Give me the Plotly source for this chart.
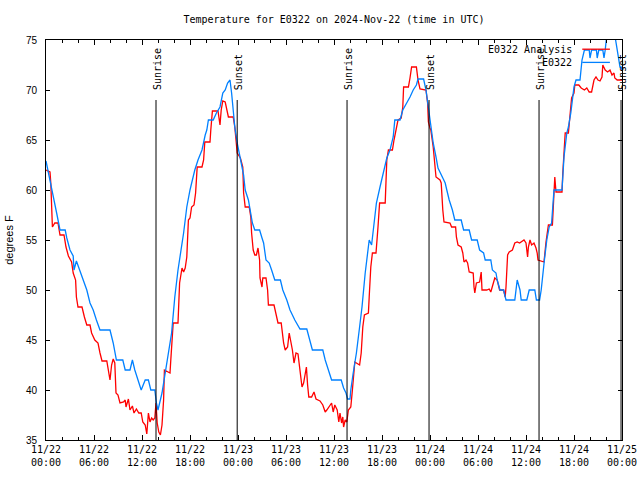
import pandas as pd
import plotly.graph_objects as go

START = pd.Timestamp("2024-11-22 00:00")

# E0322 (blue) : hours since 2024-11-22 00:00 UTC, temperature (F)
obs_hours = [0.0, 0.7, 1.33, 1.75, 2.4, 2.6, 3.0, 3.4, 3.5, 3.8, 4.2, 4.6, 5.1, 5.5, 5.9, 6.3, 6.75, 8.0,
             8.4, 8.8, 9.6, 9.9, 10.5, 10.8, 11.1, 11.5, 11.9, 12.4, 12.8, 13.1, 13.6, 13.8, 14.0, 14.5,
             14.9, 15.3, 15.7, 16.1, 16.5, 17.2, 17.6, 18.0, 18.6, 19.0, 19.5, 19.9, 20.1, 20.3, 20.9,
             21.3, 21.75, 22.1, 22.4, 22.7, 23.0, 23.2, 23.4, 23.6, 23.9, 24.2, 24.5, 24.7, 24.9, 25.3,
             25.5, 25.8, 26.1, 26.7, 27.0, 27.2, 27.5, 27.9, 28.2, 28.6, 29.3, 29.6, 30.1, 30.5, 31.1,
             31.75, 32.6, 33.0, 33.3, 34.6, 34.9, 35.3, 35.7, 36.9, 37.2, 37.5, 37.7, 38.0, 38.1, 38.4,
             38.6, 38.8, 39.2, 39.5, 39.9, 40.2, 40.4, 40.7, 41.0, 41.3, 41.75, 42.2, 42.6, 43.0, 43.4,
             43.6, 44.25, 44.6, 45.1, 45.5, 45.9, 46.3, 46.5, 47.2, 47.5, 47.8, 48.0, 48.2, 48.4, 48.75,
             49.0, 49.6, 49.9, 50.1, 50.4, 50.8, 51.1, 51.9, 52.2, 52.9, 53.2, 53.9, 54.2, 54.7, 54.9,
             55.6, 55.8, 56.25, 56.4, 56.75, 57.2, 57.5, 58.6, 58.9, 59.25, 59.4, 60.1, 60.4, 61.1, 61.3,
             61.7, 61.9, 62.1, 62.3, 62.6, 62.9, 63.2, 63.3, 63.5, 64.5, 64.6, 64.75, 65.1, 65.3, 65.6,
             65.8, 66.0, 66.25, 66.75, 67.0, 67.3, 67.9, 68.0, 68.2, 68.8, 68.9, 69.1, 69.6, 69.75, 69.9,
             70.1, 71.1, 71.3, 71.5, 71.75, 71.9, 72.0]
obs_temps = [62.9, 60.3, 57.7, 56.0, 56.0, 55.2, 54.0, 53.4, 52.0, 52.9, 52.0, 51.0, 50.0, 48.7, 48.0, 47.0, 46.0, 46.0,
             44.7, 43.0, 43.0, 42.0, 42.0, 43.0, 42.0, 41.0, 40.0, 41.0, 41.0, 40.0, 40.0, 38.7, 38.0, 39.7,
             41.7, 44.0, 45.7, 49.3, 52.0, 55.7, 58.3, 60.0, 62.0, 63.0, 64.0, 65.5, 66.0, 67.0, 67.0,
             67.7, 68.3, 69.7, 70.0, 70.7, 71.0, 69.7, 68.0, 66.3, 64.7, 63.3, 62.3, 61.5, 60.0, 59.0,
             58.0, 56.7, 56.0, 56.0, 55.2, 54.7, 53.0, 52.7, 52.0, 51.0, 51.0, 50.0, 49.0, 48.0, 47.0,
             46.1, 46.1, 45.0, 44.0, 44.0, 43.0, 42.0, 41.0, 41.0, 40.2, 39.7, 39.1, 39.1, 40.0, 41.7,
             42.7, 43.7, 46.3, 48.3, 51.7, 54.0, 55.0, 54.5, 56.7, 58.7, 60.3, 62.0, 63.2, 64.0, 65.3,
             67.0, 67.0, 68.0, 68.7, 69.3, 70.0, 70.5, 71.1, 71.1, 70.0, 68.3, 66.7, 66.0, 64.7, 63.3,
             62.2, 61.2, 60.7, 60.0, 59.0, 58.0, 57.0, 57.0, 56.0, 56.0, 55.0, 55.0, 54.0, 53.7, 53.0,
             53.0, 52.0, 51.7, 51.0, 50.0, 50.0, 49.0, 49.0, 51.0, 50.0, 49.0, 49.0, 50.0, 50.0, 49.0,
             49.0, 50.0, 51.7, 53.0, 55.0, 56.3, 56.7, 57.7, 60.0, 60.0, 61.7, 63.3, 65.7, 66.3, 67.7,
             69.3, 70.3, 71.0, 71.0, 73.0, 74.0, 74.0, 73.2, 74.0, 74.0, 73.2, 74.0, 74.0, 73.2, 74.0,
             75.5, 75.5, 74.5, 73.3, 72.3, 72.3, 72.0]

# E0322 Analysis (red)
ana_hours = [0.0, 0.5, 0.6, 0.7, 0.8, 1.1, 1.5, 1.75, 2.25, 2.5, 2.8, 3.2, 3.4, 3.7, 3.8, 4.0, 4.5, 4.8, 5.1,
             5.5, 5.7, 6.1, 6.5, 6.75, 7.0, 7.6, 7.8, 8.0, 8.2, 8.4, 8.6, 8.75, 9.0, 9.25, 9.7, 9.9, 10.0,
             10.3, 10.5, 10.8, 11.0, 11.3, 11.6, 11.9, 12.1, 12.4, 12.6, 12.8, 13.0, 13.2, 13.4, 13.6,
             13.75, 13.9, 14.1, 14.3, 14.5, 14.7, 14.8, 15.5, 15.6, 15.8, 15.9, 16.5, 16.7, 17.0, 17.2,
             17.4, 17.6, 17.8, 18.0, 18.2, 18.5, 18.7, 18.9, 19.5, 19.7, 19.85, 20.5, 20.6, 20.8, 21.5,
             21.75, 21.9, 22.1, 22.4, 22.7, 22.8, 23.4, 23.6, 23.75, 23.9, 24.3, 24.6, 24.7, 24.9, 25.4,
             25.6, 25.7, 25.9, 26.1, 26.3, 26.5, 26.7, 26.75, 27.0, 27.1, 27.5, 27.7, 27.8, 28.5, 28.75,
             29.0, 29.4, 29.7, 29.9, 30.2, 30.4, 30.6, 30.8, 31.0, 31.25, 31.5, 31.75, 32.0, 32.2, 32.4,
             32.55, 32.7, 32.85, 33.2, 33.5, 33.75, 34.25, 34.6, 34.9, 35.1, 35.4, 35.7, 35.9, 36.1,
             36.4, 36.6, 36.75, 36.95, 37.1, 37.2, 37.4, 37.6, 37.8, 38.1, 38.3, 38.5, 38.6, 38.8, 39.2,
             39.4, 39.6, 39.8, 40.3, 40.4, 40.6, 40.8, 41.25, 41.5, 41.7, 42.4, 42.6, 42.8, 43.3, 43.5,
             44.0, 44.4, 44.6, 44.7, 45.3, 45.5, 45.7, 46.3, 46.5, 46.75, 47.5, 47.7, 47.8, 48.0, 48.1,
             48.4, 48.6, 48.75, 49.25, 49.4, 49.6, 49.75, 50.5, 50.7, 51.2, 51.3, 51.5, 51.9, 52.1,
             52.25, 52.5, 52.7, 52.9, 53.4, 53.5, 53.6, 53.8, 54.2, 54.4, 54.5, 55.1, 55.4, 55.6, 55.8,
             56.1, 56.4, 56.7, 57.2, 57.4, 57.5, 57.7, 57.9, 58.3, 58.6, 58.9, 59.2, 59.5, 59.75, 60.0,
             60.2, 60.3, 60.5, 60.7, 61.0, 61.25, 61.4, 61.5, 62.25, 62.5, 62.8, 63.3, 63.5, 63.6, 63.75,
             64.5, 64.6, 64.75, 64.9, 65.3, 65.5, 65.7, 66.0, 66.1, 66.4, 66.6, 66.9, 67.3, 67.6, 67.9,
             68.2, 68.5, 68.75, 69.0, 69.25, 69.5, 69.6, 69.9, 70.2, 70.5, 70.75, 71.0, 71.1, 71.4, 72.0]
ana_temps = [62.0, 61.8, 60.7, 57.7, 56.3, 56.7, 56.7, 55.5, 55.5, 54.3, 53.4, 52.8, 51.7, 51.0, 49.3, 48.3, 48.3, 47.3, 46.5,
             46.5, 45.7, 45.0, 44.7, 43.7, 42.9, 42.9, 42.0, 41.0, 42.5, 43.1, 42.7, 39.7, 39.5, 38.7, 38.8, 39.0, 38.3,
             39.1, 38.0, 38.4, 37.7, 38.1, 37.7, 37.7, 36.8, 36.5, 35.6, 37.7, 36.8, 37.2, 37.0, 37.2,
             38.7, 36.7, 35.8, 35.5, 36.5, 39.0, 42.0, 41.7, 43.0, 45.7, 46.7, 46.7, 50.7, 52.2, 51.8,
             52.2, 53.3, 57.0, 57.2, 58.3, 58.5, 59.7, 62.3, 62.3, 63.0, 64.8, 64.8, 66.0, 67.9, 67.9,
             66.5, 68.0, 68.9, 68.8, 67.8, 67.3, 67.3, 66.3, 65.0, 63.7, 63.2, 62.3, 59.7, 58.3, 58.3,
             57.3, 55.7, 54.0, 53.5, 53.5, 54.2, 53.0, 51.2, 50.3, 51.2, 51.2, 50.0, 48.5, 48.5, 47.7,
             46.7, 46.7, 44.7, 44.0, 44.3, 45.7, 45.0, 44.0, 42.7, 43.7, 43.6, 41.7, 40.3, 40.7, 41.8,
             42.3, 40.5, 39.3, 39.3, 39.8, 39.1, 38.9, 38.5, 37.8, 38.0, 38.3, 38.7, 37.8, 38.5,
             38.0, 36.8, 37.7, 36.7, 37.3, 36.3, 37.0, 36.8, 38.0, 38.3, 40.0, 41.7, 42.8, 42.7, 42.5,
             43.7, 46.3, 47.5, 47.7, 49.3, 52.3, 53.7, 53.7, 56.3, 58.7, 58.7, 63.0, 64.0, 64.0, 65.0,
             67.0, 67.2, 68.3, 70.3, 70.3, 71.2, 72.3, 72.3, 71.0, 70.1, 70.0, 68.7, 66.8, 66.2, 66.0,
             64.3, 62.3, 61.3, 61.0, 60.7, 58.0, 56.8, 56.7, 56.3, 56.3, 55.3, 54.5, 54.3, 53.7,
             52.8, 53.0, 52.7, 51.8, 51.7, 50.3, 49.7, 50.7, 50.8, 51.8, 50.0, 50.0, 50.1, 49.8, 50.3,
             51.2, 51.0, 50.0, 50.0, 49.3, 50.3, 53.5, 53.8, 54.0, 54.7, 54.8, 54.7, 54.9, 55.0, 54.7,
             53.3, 54.3, 55.0, 54.5, 54.7, 54.2, 53.7, 53.0, 52.8, 54.8, 56.5, 56.5, 59.7, 61.3, 59.8,
             59.8, 61.7, 64.2, 65.7, 65.7, 67.3, 69.2, 69.7, 70.5, 70.5, 70.5, 70.2, 70.0, 70.2, 69.8,
             69.8, 71.0, 71.3, 71.0, 70.9, 71.3, 72.5, 72.0, 71.8, 72.0, 71.5, 71.7, 71.2, 71.0, 71.0]

# Sun events (hours since start)
event_names = ["Sunrise", "Sunset", "Sunrise", "Sunset", "Sunrise", "Sunset"]
event_hours = [13.75, 23.9, 37.63, 47.88, 61.63, 71.88]

series_names = ["E0322 Analysis", "E0322"]
series_colors = ["#ff0000", "#0080ff"]


def to_time(hours):
    return START + pd.to_timedelta(hours, unit="h")


MONO = "DejaVu Sans Mono"
SANS = "Liberation Sans"

fig = go.Figure()
fig.add_trace(go.Scatter(x=to_time(ana_hours), y=ana_temps, mode="lines", name=series_names[0],
                         line=dict(color=series_colors[0], width=1.3)))
fig.add_trace(go.Scatter(x=to_time(obs_hours), y=obs_temps, mode="lines", name=series_names[1],
                         line=dict(color=series_colors[1], width=1.3)))

for name, h in zip(event_names, event_hours):
    t = to_time(h)
    fig.add_shape(type="line", xref="x", yref="y", x0=t, x1=t, y0=35, y1=69,
                  line=dict(color="black", width=1))
    fig.add_annotation(x=t, y=69.8, xref="x", yref="y", text=name, textangle=-90,
                       showarrow=False, xanchor="center", yanchor="bottom", xshift=1,
                       font=dict(family=MONO, size=10, color="black"))

# legend drawn manually (text left of the line sample)
leg_y = [0.977, 0.944]
for name, col, yy in zip(series_names, series_colors, leg_y):
    fig.add_annotation(x=0.917, y=yy, xref="paper", yref="paper", text=name, showarrow=False,
                       xanchor="right", yanchor="middle", font=dict(family=MONO, size=10, color="black"))
    fig.add_shape(type="line", xref="paper", yref="paper", x0=0.931, x1=0.979, y0=yy, y1=yy,
                  line=dict(color=col, width=1.3))

fig.update_layout(
    width=640, height=480,
    margin=dict(l=46, r=18, t=40, b=40, autoexpand=False),
    paper_bgcolor="white", plot_bgcolor="white",
    showlegend=False,
    title=dict(text="Temperature for E0322 on 2024-Nov-22 (time in UTC)", x=0.5, xref="paper",
               xanchor="center", y=1 - 19 / 480, yanchor="middle",
               font=dict(family=MONO, size=10, color="black")),
)
fig.update_xaxes(
    type="date", range=[START, START + pd.Timedelta(hours=72)], automargin=False,
    dtick=6 * 3600 * 1000, tick0=START, tickformat="%m/%d<br>%H:%M",
    ticks="inside", ticklen=5, tickcolor="black", showline=True, linecolor="black", linewidth=1,
    mirror="allticks", showgrid=False, zeroline=False,
    minor=dict(dtick=2 * 3600 * 1000, ticks="inside", ticklen=3, tickcolor="black", showgrid=False),
    tickfont=dict(family=MONO, size=10, color="black"),
)
fig.update_yaxes(
    range=[35, 75], dtick=5, ticks="inside", ticklen=4, tickcolor="black", automargin=False,
    showline=True, linecolor="black", linewidth=1, mirror="allticks", showgrid=False, zeroline=False,
    tickfont=dict(family=SANS, size=10, color="black"), ticklabelstandoff=6,
    title=dict(text="degrees F", font=dict(family=SANS, size=11, color="black"), standoff=10),
)

fig.write_html("out.html", config={"displayModeBar": False},
               post_script="document.body.style.margin='0';document.body.style.padding='0';")
